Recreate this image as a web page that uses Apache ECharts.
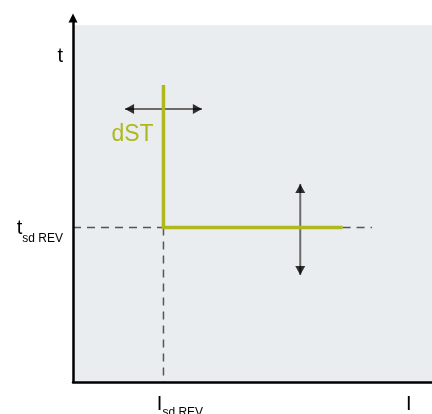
<!DOCTYPE html>
<html>
<head>
<meta charset="utf-8">
<script src="https://cdn.jsdelivr.net/npm/echarts@6/dist/echarts.min.js"></script>
<style>html,body{margin:0;padding:0;background:#fff}#c{width:432px;height:414px}</style>
</head>
<body>
<div id="c"></div>
<script>
// ---- data ----
const xMax = 100, yMax = 102;
const panelMax = [100, 100];          // extent of the shaded panel
const isdRev = 25.2;                  // I_sd REV
const tsdRev = 43.3;                  // t_sd REV
const dstTop = 83.2;                  // top of vertical dST segment
const stepEnd = 75.1;                 // end of horizontal segment
const dashEnd = 83.3;                 // end of dashed extension
const hArrowX = [14.5, 35.9], hArrowY = 76.5;
const vArrowX = 63.3, vArrowY = [30.0, 55.5];
const xTickValues = [isdRev, 93.5];
const xTickLabels = ['{pad| }{m|I}{s|sd REV}', '{m|I}'];
const yTickValues = [tsdRev, 91.6];
const yTickLabels = ['{m|t}{s|sd REV}', '{m|t}'];

const green = '#afb81c';
const font = 'Liberation Sans, Arial, sans-serif';
function makeRich(mPad, sPad) {
  return {
    m: {fontSize: 20, lineHeight: 20, verticalAlign: 'top', padding: [mPad, 0, 0, 0], color: '#000', fontFamily: font},
    s: {fontSize: 12, lineHeight: 12, verticalAlign: 'top', padding: [sPad, 0, 0, 0], color: '#000', fontFamily: font},
    pad: {width: 33, fontSize: 12}
  };
}

const chart = echarts.init(document.getElementById('c'), null, {renderer: 'canvas'});
chart.setOption({
  animation: false,
  backgroundColor: '#fff',
  grid: {left: 73, right: 0, top: 18, bottom: 32, containLabel: false, outerBoundsMode: 'none'},
  xAxis: {
    type: 'value', min: 0, max: xMax, z: 5,
    axisLine: {lineStyle: {color: '#000', width: 2.5}},
    axisTick: {show: false}, splitLine: {show: false},
    axisLabel: {
      customValues: xTickValues, margin: 8, rich: makeRich(4, 17),
      formatter: v => xTickLabels[xTickValues.indexOf(v)] || ''
    }
  },
  yAxis: {
    type: 'value', min: 0, max: yMax, z: 5,
    axisLine: {lineStyle: {color: '#000', width: 2.5}, symbol: ['none', 'triangle'], symbolSize: [9, 9]},
    axisTick: {show: false}, splitLine: {show: false},
    axisLabel: {
      customValues: yTickValues, margin: 10, rich: makeRich(1, 15),
      formatter: v => yTickLabels[yTickValues.indexOf(v)] || ''
    }
  },
  series: [
    {
      type: 'line', silent: true, symbol: 'none',
      data: [[0, tsdRev], [isdRev, tsdRev]],
      lineStyle: {color: '#555', width: 1.5, type: [8, 6]},
      markArea: {silent: true, itemStyle: {color: '#e9edf0'},
        data: [[{coord: [0, 0]}, {coord: panelMax}]]},
      z: 1
    },
    {
      type: 'line', silent: true, symbol: 'none',
      data: [[isdRev, tsdRev], [isdRev, 0]],
      lineStyle: {color: '#555', width: 1.5, type: [8, 6]}, z: 1
    },
    {
      type: 'line', silent: true, symbol: 'none',
      data: [[stepEnd, tsdRev], [dashEnd, tsdRev]],
      lineStyle: {color: '#555', width: 1.5, type: [8, 6]}, z: 1
    },
    {
      type: 'line', silent: true, symbol: 'none',
      data: [[hArrowX[0], hArrowY], [hArrowX[1], hArrowY]],
      lineStyle: {color: '#6b6b6b', width: 2}, z: 2
    },
    {
      type: 'line', silent: true, symbol: 'none',
      data: [[vArrowX, vArrowY[0]], [vArrowX, vArrowY[1]]],
      lineStyle: {color: '#6b6b6b', width: 2}, z: 2
    },
    {
      type: 'line', silent: true, showSymbol: true, symbol: 'circle', symbolSize: 1,
      data: [[isdRev, dstTop], [isdRev, tsdRev], [stepEnd, tsdRev]],
      lineStyle: {color: green, width: 3.5, cap: 'butt', join: 'miter'},
      itemStyle: {color: 'rgba(0,0,0,0)'},
      label: {
        show: true, position: 'inside', offset: [-31, 50],
        formatter: p => p.dataIndex === 0 ? 'dST' : '',
        color: green, fontSize: 23, fontFamily: font
      },
      z: 3
    },
    {
      type: 'scatter', silent: true, symbol: 'triangle', z: 4,
      itemStyle: {color: '#000'},
      data: [
        {value: [hArrowX[0], hArrowY], symbolRotate: 90, symbolSize: [10, 9], symbolOffset: [4.5, 0]},
        {value: [hArrowX[1], hArrowY], symbolRotate: -90, symbolSize: [10, 9], symbolOffset: [-4.5, 0]},
        {value: [vArrowX, vArrowY[1]], symbolRotate: 0, symbolSize: [10, 9], symbolOffset: [0, 4.5]},
        {value: [vArrowX, vArrowY[0]], symbolRotate: 180, symbolSize: [10, 9], symbolOffset: [0, -4.5]}
      ]
    }
  ]
});
</script>
</body>
</html>
